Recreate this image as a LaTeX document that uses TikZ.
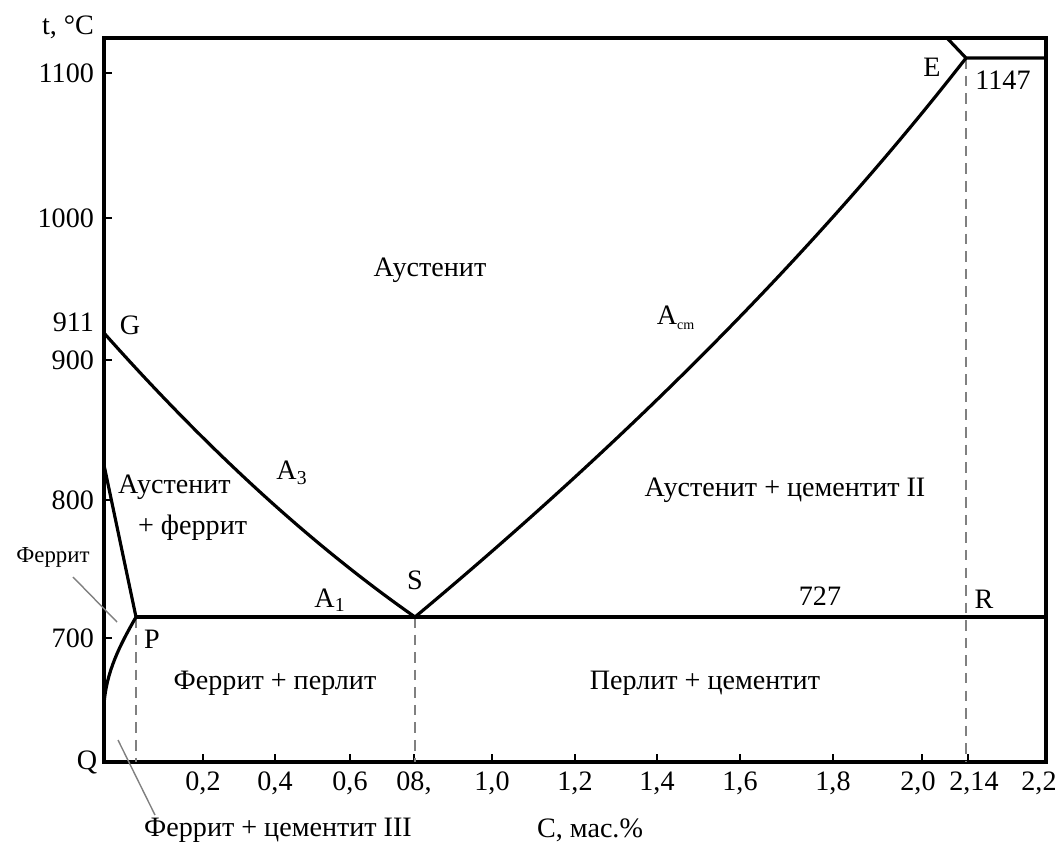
\documentclass[tikz,border=0pt]{standalone}
\usepackage{fontspec}
\setmainfont{Liberation Serif}
\usetikzlibrary{positioning}

\begin{document}
\begin{tikzpicture}[
  x=0.02cm,y=-0.02cm,
  font=\fontsize{16}{19}\selectfont,
  frame/.style={line width=2pt},
  phase/.style={line width=1.8pt,line join=round},
  guide/.style={gray,line width=1.3pt,dash pattern=on 6pt off 4pt},
  leader/.style={gray,line width=0.8pt},
  tick/.style={line width=0.9pt},
  lbl/.style={inner sep=1pt},
  small/.style={lbl,font=\fontsize{13}{15}\selectfont}
]
\useasboundingbox (0,0) rectangle (1059,846);
% key points
\coordinate (O) at (104,762);
\coordinate (TR) at (1046,38);
\coordinate (G) at (104,333);
\coordinate (S) at (415,617);
\coordinate (P) at (136,617);
\coordinate (E) at (966,58);
\coordinate (Etop) at (947,38);
\coordinate (Eend) at (1046,58);
\coordinate (Rend) at (1046,617);
\coordinate (Fa) at (104,465);
\coordinate (Fq) at (104,705);
% frame and ticks
\draw[frame] (O) rectangle (TR);
\foreach \x/\t/\lx in {203/0{,}2/203,275/0{,}4/275,350/0{,}6/350,414/08{,}/414,
    492/1{,}0/492,575/1{,}2/575,657/1{,}4/657,740/1{,}6/740,833/1{,}8/833,
    922/2{,}0/918,968/2{,}14/974,1046/2{,}2/1039}{
  \draw[tick] (\x,762) -- ++(0,-8);
  \node[lbl] (xl\x) at (\lx,783) {\t};
}
\foreach \y/\t in {73/1100,218/1000,360/900,500/800,638/700}{
  \draw[tick] (104,\y) -- ++(8,0);
  \node[lbl,anchor=east] (yl\t) at (96,\y) {\t};
}
\node[lbl,anchor=east] (t911) at (96,322) {911};
\node[lbl,anchor=east] (tunit) at (96,27) {t, °C};
\node[lbl] (xunit) at (590,830) {С, мас.\%};
% dashed verticals
\draw[guide] (P) -- (P |- O);
\draw[guide] (S) -- (S |- O);
\draw[guide] (E) -- (E |- O);
% phase lines
\draw[phase] (G) .. controls (208,450) and (312,545) .. (S);
\draw[phase] (S) .. controls (634,434) and (818,248) .. (E);
\draw[phase] (Etop) -- (E) -- (Eend);
\draw[phase] (P) -- (Rend);
\draw[phase] (Fa) -- (P);
\draw[phase] (P) .. controls (120,645) and (106,672) .. (Fq);
% point labels
\node[lbl] (lG) at (130,325) {G};
\node[lbl] (lQ) at (87,762) {Q};
\node[lbl] (lP) at (152,639) {P};
\node[lbl] (lS) at (415,580) {S};
\node[lbl] (lE) at (932,67) {E};
\node[lbl] (l1147) at (1003,80) {1147};
\node[lbl] (l727) at (820,596) {727};
\node[lbl] (lR) at (984,599) {R};
\node[lbl] (lA1) at (330,600) {A\textsubscript{1}};
\node[lbl] (lA3) at (292,473) {A\textsubscript{3}};
\node[lbl] (lAcm) at (676,318) {A\textsubscript{\fontsize{8}{9}\selectfont cm}};
% phase fields
\node[lbl] (aust) at (430,270) {Аустенит};
\node[lbl,anchor=west] (af1) at (116,487) {Аустенит};
\node[lbl,anchor=west] (af2) at (136,528) {+ феррит};
\node[lbl] (acem) at (785,490) {Аустенит + цементит II};
\node[lbl] (fp) at (275,683) {Феррит + перлит};
\node[lbl] (pc) at (705,683) {Перлит + цементит};
\node[small] (ferr) at (53,557) {Феррит};
\node[lbl] (fc3) at (278,830) {Феррит + цементит III};
% leaders
\coordinate (fl1) at (73,577);
\coordinate (fl2) at (117,622);
\coordinate (cl1) at (155,815);
\coordinate (cl2) at (118,740);
\draw[leader] (fl1) -- (fl2);
\draw[leader] (cl1) -- (cl2);
\end{tikzpicture}
\end{document}
